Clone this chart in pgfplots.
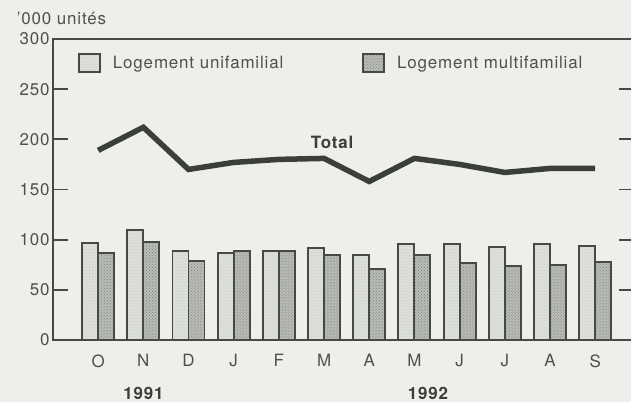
\documentclass[border=0pt]{standalone}
\usepackage{fontspec}
\setmainfont{TeX Gyre Heros}[LetterSpace=5]
\usepackage{pgfplots}
\pgfplotsset{compat=1.18}
\usetikzlibrary{patterns,backgrounds}
\definecolor{bg}{HTML}{EEEFEB}
\definecolor{ink}{HTML}{454A44}
\definecolor{txt}{HTML}{4C514C}
\definecolor{lightbar}{HTML}{DCDED8}
\definecolor{darkbar}{HTML}{BABCB6}
\definecolor{dots}{HTML}{7E807A}
\definecolor{tot}{HTML}{3A3F39}

\pgfplotstableread{
x uni multi total
0 97 87 189
1 110 98 212
2 89 79 170
3 87 89 177
4 89 89 180
5 92 85 181
6 85 71 158
7 96 85 181
8 96 77 175
9 93 74 167
10 96 75 171
11 94 78 171
}\datatable

\begin{document}
\begin{tikzpicture}[font=\fontsize{17}{20}\selectfont]
\fill[bg] (-53bp,-62bp) rectangle (578bp,340bp);
\useasboundingbox (-53bp,-62bp) rectangle (578bp,340bp);
\begin{axis}[
  at={(0,0)}, anchor=south west,
  scale only axis, width=581bp, height=301bp,
  xmin=-1, xmax=11.86, ymin=0, ymax=300,
  clip=false,
  axis line style={ink, line width=1.8bp},
  xtick={0,...,11},
  xticklabels={O,N,D,J,F,M,A,M,J,J,A,S},
  x tick style={draw=none},
  xticklabel style={text=txt, yshift=-11bp},
  ytick={0,50,...,300},
  y tick style={ink, line width=1.8bp},
  tick align=inside,
  major tick length=15bp,
  yticklabel style={text=txt},
  /pgf/number format/assume math mode=true,
  legend columns=2,
  legend cell align=left,
  legend style={draw=none, fill=none, at={(axis description cs:0.043,0.955)}, anchor=north west,
    inner sep=0pt, text=txt,
    /tikz/every odd column/.style={column sep=10bp},
    /tikz/every even column/.style={column sep=77bp}},
  legend image code/.code={\draw[#1, line width=1.8bp] (0bp,-9bp) rectangle (21bp,9bp);},
]
\addplot[ybar, bar width=16bp, bar shift=-8bp, draw=ink, line width=1.9bp, fill=lightbar,
  postaction={pattern=dots, pattern color=dots!40}] table[x=x, y=uni] {\datatable};
\addlegendentry{Logement unifamilial}
\addplot[ybar, bar width=16bp, bar shift=8bp, draw=ink, line width=1.9bp, fill=darkbar,
  postaction={pattern=crosshatch dots, pattern color=dots}] table[x=x, y=multi] {\datatable};
\addlegendentry{Logement multifamilial}
\addplot[sharp plot, tot, line width=5.5bp, forget plot] table[x=x, y=total] {\datatable};
\node[font=\fontsize{17}{20}\selectfont\bfseries, text=tot] at (axis cs:5.18,197) {Total};
\node[font=\fontsize{17}{20}\selectfont\bfseries, text=tot] at (axis cs:1,-53) {1991};
\node[font=\fontsize{17}{20}\selectfont\bfseries, text=tot] at (axis cs:7.3,-53) {1992};
\node[anchor=west, text=txt] at (axis cs:-1.88,320) {'000 unités};
\end{axis}
\end{tikzpicture}
\end{document}
